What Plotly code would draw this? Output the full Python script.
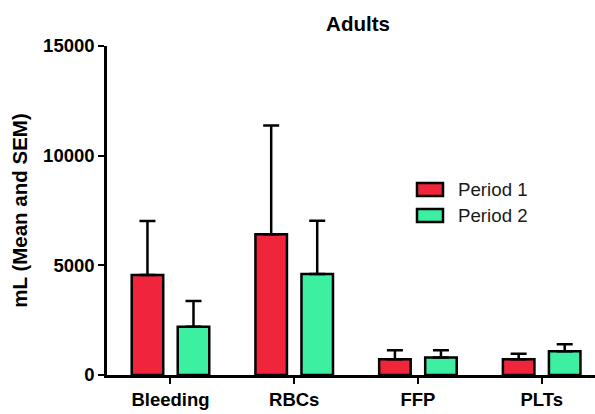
import plotly.graph_objects as go

# Transfusion volumes in adults, mean and SEM (mL)
categories = ["Bleeding", "RBCs", "FFP", "PLTs"]
period1_mean = [4560, 6420, 720, 720]
period1_sem = [2460, 4950, 410, 250]
period2_mean = [2200, 4600, 800, 1080]
period2_sem = [1170, 2430, 330, 320]
series_names = ["Period 1", "Period 2"]
series_colors = ["#F0243A", "#3DEFA0"]
y_ticks = [0, 5000, 10000, 15000]

W, H = 595, 414
L, R, T, B = 107, 0, 46, 39
font_family = "Liberation Sans, Arial, sans-serif"

fig = go.Figure()
for name, means, sems, color in zip(series_names,
                                    [period1_mean, period2_mean],
                                    [period1_sem, period2_sem],
                                    series_colors):
    fig.add_trace(go.Bar(
        x=categories, y=means, name=name,
        marker=dict(color=color, line=dict(color="black", width=2.5)),
        error_y=dict(type="data", array=sems, arrayminus=[0] * len(sems),
                     symmetric=False, color="black", thickness=2.5, width=8),
        showlegend=False,
    ))

# Legend drawn as framed swatches next to the labels (paper coordinates)
pw, ph = W - L - R, H - T - B
def px_x(x):
    return (x - L) / pw
def px_y(y):
    return (H - B - y) / ph

for i, (name, color) in enumerate(zip(series_names, series_colors)):
    top = 183 + i * 26
    fig.add_shape(type="rect", xref="paper", yref="paper",
                  x0=px_x(417), x1=px_x(443), y0=px_y(top + 13), y1=px_y(top),
                  fillcolor=color, line=dict(color="black", width=2.5))
    fig.add_annotation(xref="paper", yref="paper", x=px_x(456), y=px_y(top + 6.5),
                       text=name, showarrow=False, xanchor="left", yanchor="middle",
                       font=dict(family=font_family, size=18.7, color="#1a1a1a"))

fig.update_layout(
    width=W, height=H,
    margin=dict(l=L, r=R, t=T, b=B, pad=0),
    paper_bgcolor="white", plot_bgcolor="white",
    barmode="group", bargap=0.256, bargroupgap=0.315,
    title=dict(text="<b>Adults</b>", x=358 / W, xanchor="center",
               y=1 - 24 / H, yanchor="middle",
               font=dict(family=font_family, size=20.5, color="black")),
    font=dict(family=font_family, color="black"),
)
fig.update_xaxes(
    range=[-0.513, 3.431], showline=True, linecolor="black", linewidth=2.5,
    ticks="outside", ticklen=6, tickwidth=2, tickcolor="black",
    tickfont=dict(family=font_family, size=18.5, color="black", weight="bold"),
    showgrid=False, zeroline=False, fixedrange=True,
)
fig.update_yaxes(
    range=[0, 15000], tickvals=y_ticks, ticktext=[str(v) for v in y_ticks],
    showline=True, linecolor="black", linewidth=2.5,
    ticks="outside", ticklen=6, tickwidth=2, tickcolor="black",
    tickfont=dict(family=font_family, size=18.5, color="black", weight="bold"),
    title=dict(text="<b>mL (Mean and SEM)</b>", standoff=10,
               font=dict(family=font_family, size=20.5, color="black")),
    showgrid=False, zeroline=False,
)

fig.write_html("out.html")
